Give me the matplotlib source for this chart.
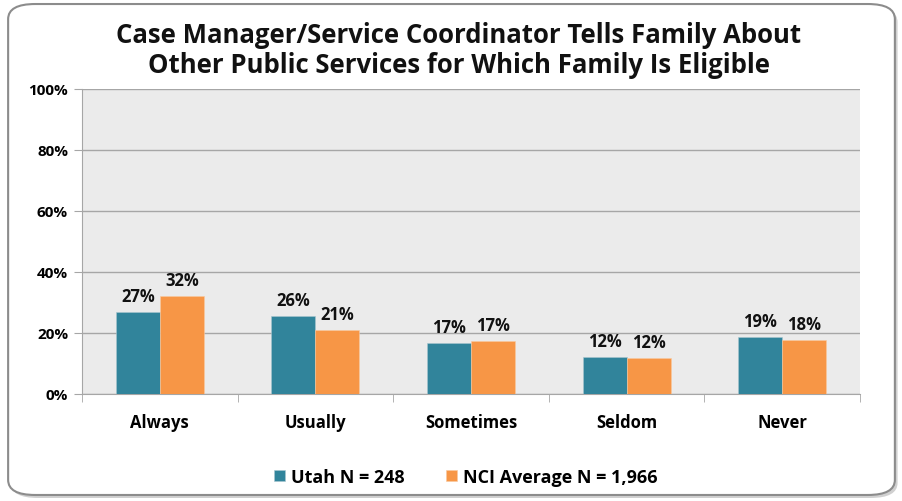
import matplotlib.pyplot as plt
import numpy as np
from matplotlib.patches import FancyBboxPatch

categories = ["Always", "Usually", "Sometimes", "Seldom", "Never"]
utah = [26.9, 25.6, 16.6, 12.1, 18.6]
nci = [32.1, 21.0, 17.4, 11.8, 17.6]
series_names = ["Utah N = 248", "NCI Average N = 1,966"]
yticks = [0, 20, 40, 60, 80, 100]

teal = "#31849B"
orange = "#F79646"

plt.rcParams['font.family'] = ['Open Sans', 'DejaVu Sans']

fig = plt.figure(figsize=(9.03, 5.02), dpi=100)

# rounded frame with a soft shadow
shadow = FancyBboxPatch((0.012, 0.006), 0.982, 0.978, boxstyle="round,pad=0,rounding_size=0.03",
                        transform=fig.transFigure, facecolor="#d0d0d0", edgecolor="none", zorder=0)
frame = FancyBboxPatch((0.009, 0.012), 0.982, 0.978, boxstyle="round,pad=0,rounding_size=0.03",
                       transform=fig.transFigure, facecolor="white", edgecolor="#8c8c8c",
                       linewidth=1.5, zorder=1)
fig.patches.extend([shadow, frame])

ax = fig.add_axes([82 / 903, 1 - 395 / 502, (860 - 82) / 903, (395 - 90) / 502])
ax.set_facecolor("#EBEBEB")
ax.set_zorder(2)

x = np.arange(len(categories))
w = 0.283
b1 = ax.bar(x - w / 2, utah, w, color=teal, edgecolor="#a9c7d0", linewidth=0.4, label=series_names[0], zorder=3)
b2 = ax.bar(x + w / 2, nci, w, color=orange, edgecolor="#f9c9a0", linewidth=0.4, label=series_names[1], zorder=3)

for bars in (b1, b2):
    for r in bars:
        ax.text(r.get_x() + r.get_width() / 2, r.get_height() + 2.3, f"{round(r.get_height()):.0f}%",
                ha="center", va="bottom", fontsize=12, fontweight="bold", color="#111111")

ax.set_ylim(0, 100)
ax.set_xlim(-0.5, len(categories) - 0.5)
ax.set_yticks(yticks)
ax.set_yticklabels([f"{v}%" for v in yticks], fontsize=11, fontweight="bold")
ax.yaxis.grid(True, color="#a6a6a6", linewidth=1)
ax.set_axisbelow(True)
ax.tick_params(axis="y", length=6, color="#a6a6a6", pad=4)

ax.set_xticks(x)
ax.set_xticklabels(categories, fontsize=12, fontweight="bold")
ax.set_xticks(np.arange(len(categories) + 1) - 0.5, minor=True)
ax.tick_params(axis="x", which="major", length=0, pad=14)
ax.tick_params(axis="x", which="minor", length=6, color="#a6a6a6")

for s in ["top", "right"]:
    ax.spines[s].set_visible(False)
ax.spines["left"].set_color("#a6a6a6")
ax.spines["bottom"].set_color("#a6a6a6")

fig.text(0.508, 0.9, "Case Manager/Service Coordinator Tells Family About\nOther Public Services for Which Family Is Eligible",
         ha="center", va="center", fontsize=18.5, fontweight="bold", linespacing=1.15, color="#111111")

fig.legend(handles=[b1, b2], loc="center", bbox_to_anchor=(0.516, 0.048), ncol=2, frameon=False,
           prop={"size": 13, "weight": "bold"}, handlelength=0.6, handleheight=0.6,
           columnspacing=2.3, handletextpad=0.35)

plt.savefig("out.png", dpi=100)
